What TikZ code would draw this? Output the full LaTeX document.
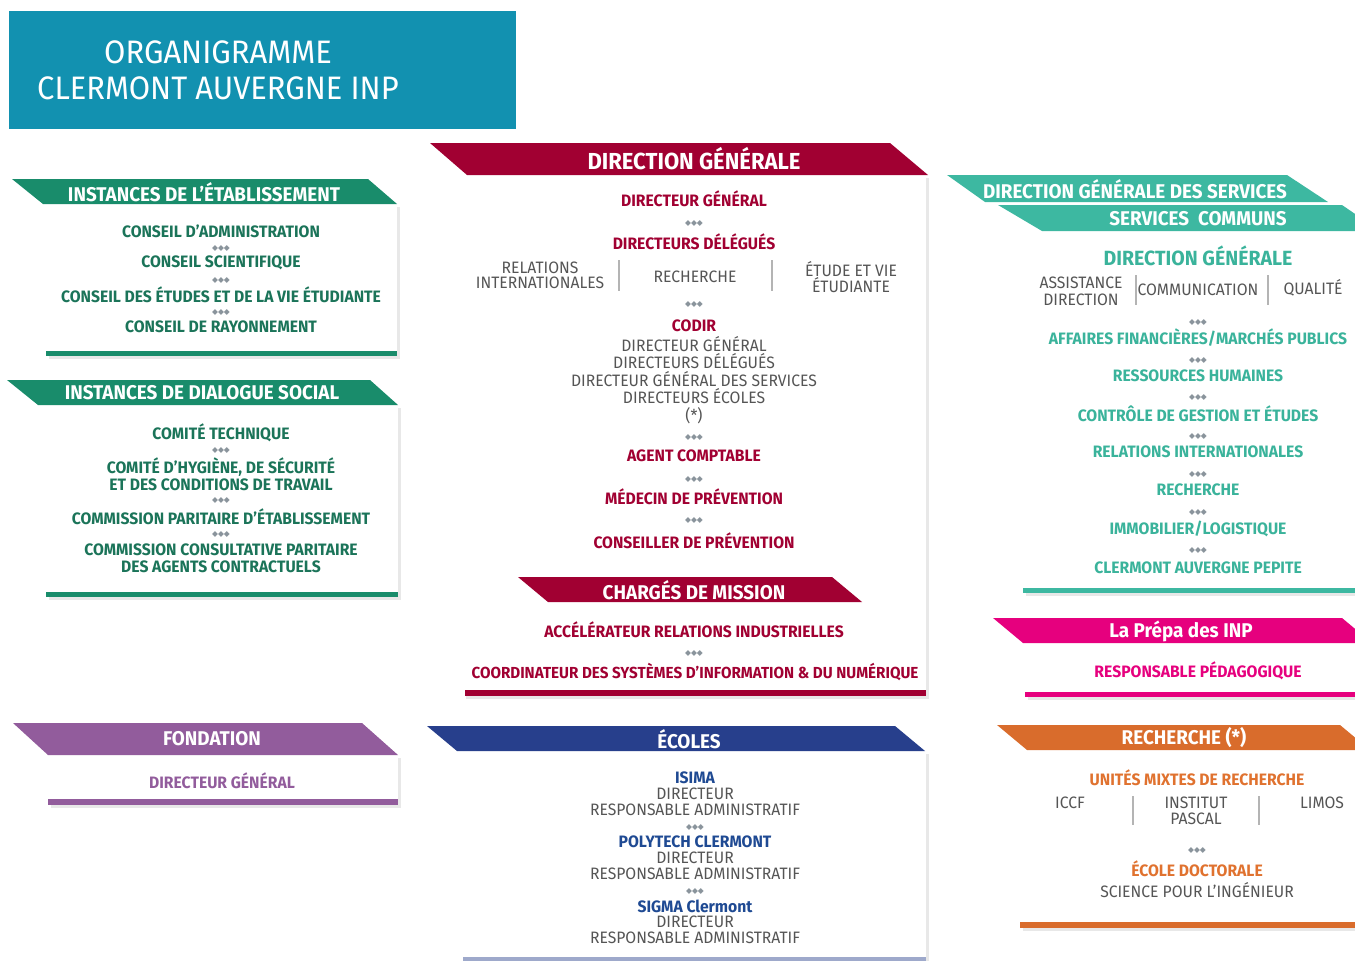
\documentclass[tikz,border=0pt]{standalone}
\usepackage{fontspec}
\setmainfont{Fira Sans}[FakeStretch=0.95]
\newfontfamily\symboles{DejaVu Sans}
\usetikzlibrary{shadows}

% couleurs des services
\definecolor{bleuTitre}{HTML}{1291B0}
\definecolor{vertInst}{HTML}{198C6B}
\definecolor{vertTexte}{HTML}{1B7459}
\definecolor{bordeaux}{HTML}{A10032}
\definecolor{turquoise}{HTML}{3DB8A1}
\definecolor{turquoiseTexte}{HTML}{3AB39B}
\definecolor{rose}{HTML}{E6007E}
\definecolor{orangeRech}{HTML}{D96C2C}
\definecolor{orangeTexte}{HTML}{E0722F}
\definecolor{violet}{HTML}{925C9C}
\definecolor{bleuEcoles}{HTML}{273F8C}
\definecolor{bleuTexte}{HTML}{1F4A93}
\definecolor{grisTexte}{HTML}{555555}
\definecolor{grisPoints}{HTML}{8A949C}
\definecolor{grisTrait}{HTML}{B4B4B4}

\tikzset{
  cadre/.style={fill=white, drop shadow={opacity=0.18, shadow xshift=1.5pt, shadow yshift=-1.5pt}},
  titre/.style={text=white, font=\bfseries\fontsize{11.3}{12}\selectfont, inner sep=0pt},
  item/.style={font=\bfseries\fontsize{9.4}{9.6}\selectfont, align=center, inner sep=0pt},
  gris/.style={text=grisTexte, font=\fontsize{9.4}{9.1}\selectfont, align=center, inner sep=0pt},
  points/.style={text=grisPoints, font=\symboles\fontsize{4.4}{5}\selectfont, inner sep=0pt},
  trait/.style={draw=grisTrait, line width=0.6pt}
}

\begin{document}
\begin{tikzpicture}[x=0.02cm, y=-0.02cm]
    \useasboundingbox (0,0) rectangle (1355,960);
    \clip (0,0) rectangle (1355,960);

    % titre
    \fill[bleuTitre] (9,11) rectangle (516,129);
    \node[text=white, font=\fontsize{18.5}{20.4}\selectfont, align=center] (titre) at (218,70)
        {ORGANIGRAMME\\CLERMONT AUVERGNE INP};

    % instances de l'etablissement
    \fill[cadre] (46,204) rectangle (397,356);
    \fill[vertInst] (46,351) rectangle (397,356);
    \fill[vertInst] (12,179) -- (368,179) -- (397,204) -- (43,204) -- cycle;
    \node[titre] (instEtab) at (204,192) {INSTANCES DE L’ÉTABLISSEMENT};
    \node[item, text=vertTexte] (ca) at (221,231) {CONSEIL D’ADMINISTRATION};
    \node[points] (pE1) at (221,248) {◆◆◆};
    \node[item, text=vertTexte] (cs) at (221,263) {CONSEIL SCIENTIFIQUE};
    \node[points] (pE2) at (221,280) {◆◆◆};
    \node[item, text=vertTexte] (cevu) at (221,295) {CONSEIL DES ÉTUDES ET DE LA VIE ÉTUDIANTE};
    \node[points] (pE3) at (221,312) {◆◆◆};
    \node[item, text=vertTexte] (cr) at (221,327) {CONSEIL DE RAYONNEMENT};

    % instances de dialogue social
    \fill[cadre] (46,405) rectangle (398,597);
    \fill[vertInst] (46,592) rectangle (398,597);
    \fill[vertInst] (7,380) -- (370,380) -- (398,405) -- (38,405) -- cycle;
    \node[titre] (instDial) at (202,393) {INSTANCES DE DIALOGUE SOCIAL};
    \node[item, text=vertTexte] (ct) at (221,433) {COMITÉ TECHNIQUE};
    \node[points] (pD1) at (221,450) {◆◆◆};
    \node[item, text=vertTexte] (chsct) at (221,474.5) {COMITÉ D'HYGIÈNE, DE SÉCURITÉ\\ET DES CONDITIONS DE TRAVAIL};
    \node[points] (pD2) at (221,500) {◆◆◆};
    \node[item, text=vertTexte] (cpe) at (221,517) {COMMISSION PARITAIRE D’ÉTABLISSEMENT};
    \node[points] (pD3) at (221,534) {◆◆◆};
    \node[item, text=vertTexte] (ccp) at (221,558.5) {COMMISSION CONSULTATIVE PARITAIRE\\DES AGENTS CONTRACTUELS};

    % fondation
    \fill[cadre] (48,755) rectangle (398,805);
    \fill[violet] (48,799) rectangle (398,805);
    \fill[violet] (13,723) -- (362,723) -- (398,755) -- (48,755) -- cycle;
    \node[titre] (fondation) at (212,739) {FONDATION};
    \node[item, text=violet] (dgFond) at (222,781) {DIRECTEUR GÉNÉRAL};

    % direction generale
    \fill[cadre] (463,175) rectangle (926,696);
    \fill[bordeaux] (465,690) rectangle (926,696);
    \fill[bordeaux] (430,143) -- (890,143) -- (928,175) -- (467,175) -- cycle;
    \node[titre, font=\bfseries\fontsize{13.2}{14}\selectfont] (dirGen) at (694,159) {DIRECTION GÉNÉRALE};
    \node[item, text=bordeaux] (dg) at (694,199) {DIRECTEUR GÉNÉRAL};
    \node[points] (pG1) at (694,223) {◆◆◆};
    \node[item, text=bordeaux] (dd) at (694,242) {DIRECTEURS DÉLÉGUÉS};
    \node[gris, font=\fontsize{9.4}{8.6}\selectfont] (ddRi) at (540,275.5) {RELATIONS\\INTERNATIONALES};
    \node[gris] (ddRech) at (695,277) {RECHERCHE};
    \node[gris] (ddEtu) at (851,277) {ÉTUDE ET VIE\\ÉTUDIANTE};
    \draw[trait] (619,260) -- (619,291);
    \draw[trait] (772,260) -- (772,291);
    \node[points] (pG2) at (694,304) {◆◆◆};
    \node[item, text=bordeaux] (codir) at (694,326) {CODIR};
    \node[gris, font=\fontsize{9.4}{9.9}\selectfont] (codirMembres) at (694,380)
        {DIRECTEUR GÉNÉRAL\\DIRECTEURS DÉLÉGUÉS\\DIRECTEUR GÉNÉRAL DES SERVICES\\DIRECTEURS ÉCOLES\\(*)};
    \node[points] (pG3) at (694,437) {◆◆◆};
    \node[item, text=bordeaux] (ac) at (694,456) {AGENT COMPTABLE};
    \node[points] (pG4) at (694,479) {◆◆◆};
    \node[item, text=bordeaux] (medecin) at (694,497) {MÉDECIN DE PRÉVENTION};
    \node[points] (pG5) at (694,520) {◆◆◆};
    \node[item, text=bordeaux] (conseiller) at (694,541) {CONSEILLER DE PRÉVENTION};

    % charges de mission
    \fill[bordeaux] (518,577) -- (832,577) -- (862,602) -- (548,602) -- cycle;
    \node[titre] (charges) at (694,590) {CHARGÉS DE MISSION};
    \node[item, text=bordeaux] (ari) at (694,630) {ACCÉLÉRATEUR RELATIONS INDUSTRIELLES};
    \node[points] (pM1) at (694,653) {◆◆◆};
    \node[item, text=bordeaux, font=\bfseries\fontsize{9.1}{9.6}\selectfont] (csin) at (695,672) {COORDINATEUR DES SYSTÈMES D’INFORMATION \& DU NUMÉRIQUE};

    % ecoles
    \fill[cadre] (463,751) rectangle (926,965);
    \fill[bleuEcoles!45] (463,957) rectangle (926,962);
    \fill[bleuEcoles] (427,726) -- (895,726) -- (925,751) -- (457,751) -- cycle;
    \node[titre] (ecoles) at (689,739) {ÉCOLES};
    \node[item, text=bleuTexte] (isima) at (695,778) {ISIMA};
    \node[gris] (isimaResp) at (695,802) {DIRECTEUR\\RESPONSABLE ADMINISTRATIF};
    \node[points] (pS1) at (695,827) {◆◆◆};
    \node[item, text=bleuTexte] (polytech) at (695,842) {POLYTECH CLERMONT};
    \node[gris] (polytechResp) at (695,866) {DIRECTEUR\\RESPONSABLE ADMINISTRATIF};
    \node[points] (pS2) at (695,891) {◆◆◆};
    \node[item, text=bleuTexte] (sigma) at (695,906) {SIGMA Clermont};
    \node[gris] (sigmaResp) at (695,930) {DIRECTEUR\\RESPONSABLE ADMINISTRATIF};

    % direction generale des services
    \fill[cadre] (1023,231) rectangle (1360,593);
    \fill[turquoise] (1023,588) rectangle (1360,593);
    \fill[turquoise] (947,175) -- (1287,175) -- (1328,202) -- (985,202) -- cycle;
    \fill[turquoise] (998,205) -- (1342,205) -- (1380,231) -- (1042,231) -- cycle;
    \node[titre] (dgs) at (1135,189) {DIRECTION GÉNÉRALE DES SERVICES};
    \node[titre] (communs) at (1198,219) {SERVICES\ \ COMMUNS};
    \node[item, text=turquoiseTexte, font=\bfseries\fontsize{11.7}{12}\selectfont] (dgsDir) at (1198,256) {DIRECTION GÉNÉRALE};
    \node[gris, font=\fontsize{9.4}{9.6}\selectfont] (assist) at (1081,291.5) {ASSISTANCE\\DIRECTION};
    \node[gris] (comm) at (1198,290) {COMMUNICATION};
    \node[gris] (qualite) at (1313,288) {QUALITÉ};
    \draw[trait] (1136,275) -- (1136,305);
    \draw[trait] (1268,275) -- (1268,305);
    \node[points] (pC1) at (1198,322) {◆◆◆};
    \node[item, text=turquoiseTexte] (finances) at (1198,338) {AFFAIRES FINANCIÈRES/MARCHÉS PUBLICS};
    \node[points] (pC2) at (1198,360) {◆◆◆};
    \node[item, text=turquoiseTexte] (rh) at (1198,376) {RESSOURCES HUMAINES};
    \node[points] (pC3) at (1198,397) {◆◆◆};
    \node[item, text=turquoiseTexte] (cge) at (1198,414) {CONTRÔLE DE GESTION ET ÉTUDES};
    \node[points] (pC4) at (1198,436) {◆◆◆};
    \node[item, text=turquoiseTexte] (ri) at (1198,452) {RELATIONS INTERNATIONALES};
    \node[points] (pC5) at (1198,474) {◆◆◆};
    \node[item, text=turquoiseTexte] (rech) at (1198,490) {RECHERCHE};
    \node[points] (pC6) at (1198,512) {◆◆◆};
    \node[item, text=turquoiseTexte] (immo) at (1198,529) {IMMOBILIER/LOGISTIQUE};
    \node[points] (pC7) at (1198,550) {◆◆◆};
    \node[item, text=turquoiseTexte] (pepite) at (1198,568) {CLERMONT AUVERGNE PEPITE};

    % prepa des INP
    \fill[cadre] (1025,643) rectangle (1360,697);
    \fill[rose] (1025,692) rectangle (1360,697);
    \fill[rose] (993,618) -- (1342,618) -- (1372,643) -- (1023,643) -- cycle;
    \node[titre] (prepa) at (1181,631) {La Prépa des INP};
    \node[item, text=rose] (respPeda) at (1198,671) {RESPONSABLE PÉDAGOGIQUE};

    % recherche
    \fill[cadre] (1020,750) rectangle (1360,928);
    \fill[orangeRech] (1020,922) rectangle (1360,928);
    \fill[orangeRech] (997,725) -- (1340,725) -- (1370,750) -- (1027,750) -- cycle;
    \node[titre] (recherche) at (1184,738) {RECHERCHE (*)};
    \node[item, text=orangeTexte] (umr) at (1197,778) {UNITÉS MIXTES DE RECHERCHE};
    \node[gris] (iccf) at (1070,803) {ICCF};
    \node[gris] (pascal) at (1196,811) {INSTITUT\\PASCAL};
    \node[gris] (limos) at (1322,803) {LIMOS};
    \draw[trait] (1133,796) -- (1133,825);
    \draw[trait] (1259,796) -- (1259,825);
    \node[points] (pR1) at (1197,850) {◆◆◆};
    \node[item, text=orangeTexte] (ed) at (1197,869) {ÉCOLE DOCTORALE};
    \node[gris] (spi) at (1197,890) {SCIENCE POUR L’INGÉNIEUR};
\end{tikzpicture}
\end{document}
